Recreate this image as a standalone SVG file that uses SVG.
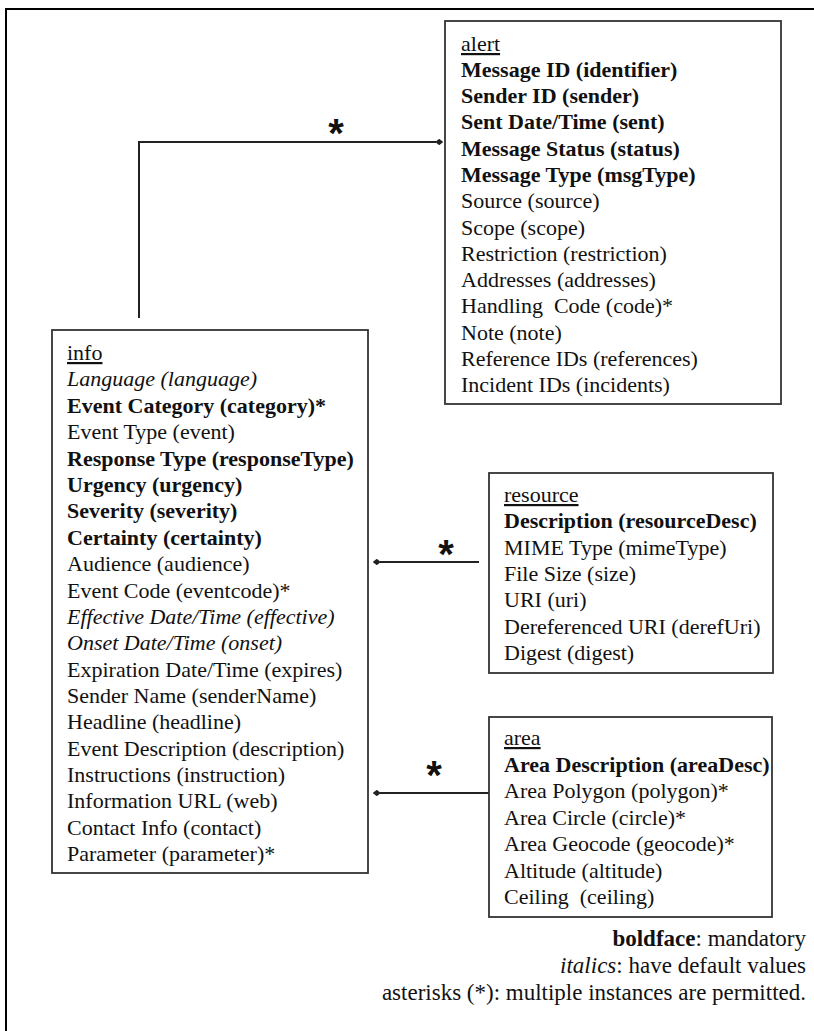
<svg xmlns="http://www.w3.org/2000/svg" width="814" height="1031" viewBox="0 0 814 1031">
<defs>
<style>
.box{fill:#fff;stroke:#333;stroke-width:1.8}
.t{font-family:'Liberation Serif','Times New Roman',Tinos,'DejaVu Serif',serif;font-size:22px;fill:#111}
.b{font-weight:bold}
.i{font-style:italic}
.u{text-decoration:underline}
.line{stroke:#222;stroke-width:2;fill:none}
.star{font-family:'Liberation Sans',Arial,sans-serif;font-weight:bold;font-size:40px;fill:#111;text-anchor:middle}
.lg{font-family:'Liberation Serif','Times New Roman',Tinos,'DejaVu Serif',serif;font-size:23px;fill:#111;text-anchor:end}
</style>
<marker id="dia" viewBox="0 0 10 8" refX="1" refY="4" markerWidth="8" markerHeight="6.4" markerUnits="userSpaceOnUse" orient="auto-start-reverse">
<path d="M0,4 L5,0 L10,4 L5,8 Z" fill="#222"/>
</marker>
</defs>
<rect x="0" y="0" width="814" height="1031" fill="#fff"/>
<rect x="6" y="9" width="900" height="1100" fill="none" stroke="#000" stroke-width="2"/>

<g id="connectors">
<polyline class="line" points="139,318 139,142 436,142" marker-end="url(#dia)"/>
<line class="line" x1="479" y1="562" x2="380" y2="562" marker-end="url(#dia)"/>
<line class="line" x1="489" y1="793" x2="380" y2="793" marker-end="url(#dia)"/>
<text class="star" x="336" y="147">*</text>
<text class="star" x="446" y="568">*</text>
<text class="star" x="434" y="789">*</text>
</g>

<g id="alert">
<rect class="box" x="445" y="21" width="336" height="383"/>
<text class="t u" x="461" y="51">alert</text>
<text class="t b" x="461" y="77">Message ID (identifier)</text>
<text class="t b" x="461" y="103">Sender ID (sender)</text>
<text class="t b" x="461" y="129">Sent Date/Time (sent)</text>
<text class="t b" x="461" y="156">Message Status (status)</text>
<text class="t b" x="461" y="182">Message Type (msgType)</text>
<text class="t" x="461" y="208">Source (source)</text>
<text class="t" x="461" y="235">Scope (scope)</text>
<text class="t" x="461" y="261">Restriction (restriction)</text>
<text class="t" x="461" y="287">Addresses (addresses)</text>
<text class="t" x="461" y="313" xml:space="preserve">Handling  Code (code)*</text>
<text class="t" x="461" y="340">Note (note)</text>
<text class="t" x="461" y="366">Reference IDs (references)</text>
<text class="t" x="461" y="392">Incident IDs (incidents)</text>
</g>

<g id="info">
<rect class="box" x="52" y="330" width="316" height="543"/>
<text class="t u" x="67" y="360">info</text>
<text class="t i" x="67" y="386">Language (language)</text>
<text class="t b" x="67" y="413">Event Category (category)*</text>
<text class="t" x="67" y="439">Event Type (event)</text>
<text class="t b" x="67" y="466">Response Type (responseType)</text>
<text class="t b" x="67" y="492">Urgency (urgency)</text>
<text class="t b" x="67" y="518">Severity (severity)</text>
<text class="t b" x="67" y="545">Certainty (certainty)</text>
<text class="t" x="67" y="571">Audience (audience)</text>
<text class="t" x="67" y="598">Event Code (eventcode)*</text>
<text class="t i" x="67" y="624">Effective Date/Time (effective)</text>
<text class="t i" x="67" y="650">Onset Date/Time (onset)</text>
<text class="t" x="67" y="677">Expiration Date/Time (expires)</text>
<text class="t" x="67" y="703">Sender Name (senderName)</text>
<text class="t" x="67" y="729">Headline (headline)</text>
<text class="t" x="67" y="756">Event Description (description)</text>
<text class="t" x="67" y="782">Instructions (instruction)</text>
<text class="t" x="67" y="808">Information URL (web)</text>
<text class="t" x="67" y="835">Contact Info (contact)</text>
<text class="t" x="67" y="861">Parameter (parameter)*</text>
</g>

<g id="resource">
<rect class="box" x="489" y="473" width="284" height="200"/>
<text class="t u" x="504" y="502">resource</text>
<text class="t b" x="504" y="528">Description (resourceDesc)</text>
<text class="t" x="504" y="555">MIME Type (mimeType)</text>
<text class="t" x="504" y="581">File Size (size)</text>
<text class="t" x="504" y="607">URI (uri)</text>
<text class="t" x="504" y="634">Dereferenced URI (derefUri)</text>
<text class="t" x="504" y="660">Digest (digest)</text>
</g>

<g id="area">
<rect class="box" x="489" y="717" width="283" height="200"/>
<text class="t u" x="504" y="745">area</text>
<text class="t b" x="504" y="772">Area Description (areaDesc)</text>
<text class="t" x="504" y="798">Area Polygon (polygon)*</text>
<text class="t" x="504" y="825">Area Circle (circle)*</text>
<text class="t" x="504" y="851">Area Geocode (geocode)*</text>
<text class="t" x="504" y="878">Altitude (altitude)</text>
<text class="t" x="504" y="904" xml:space="preserve">Ceiling  (ceiling)</text>
</g>

<g id="legend">
<text class="lg" x="806" y="946"><tspan font-weight="bold">boldface</tspan>: mandatory</text>
<text class="lg" x="806" y="973"><tspan font-style="italic">italics</tspan>: have default values</text>
<text class="lg" x="806" y="1000">asterisks (*): multiple instances are permitted.</text>
</g>
</svg>
